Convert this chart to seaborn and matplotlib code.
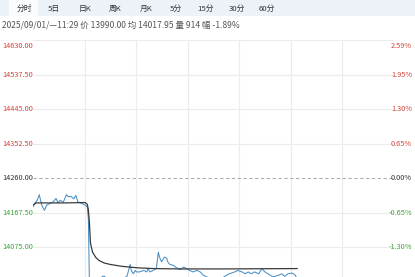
import matplotlib
matplotlib.use("Agg")
import matplotlib.pyplot as plt
import matplotlib.transforms as mtransforms
from matplotlib.patches import Rectangle
import seaborn as sns
import pandas as pd

# ---- data ----
TABS = ["分时", "5日", "日K", "周K", "月K", "5分", "15分", "30分", "60分"]
INFO = "2025/09/01/—11:29 价 13990.00 均 14017.95 量 914 幅 -1.89%"
PREV_CLOSE = 14260.00
PRICE_TICKS = [14630.00, 14537.50, 14445.00, 14352.50, 14260.00, 14167.50, 14075.00]
PCT_LABELS = ["2.59%", "1.95%", "1.30%", "0.65%", "0.00%", "-0.65%", "-1.30%"]
Y_MIN, Y_MAX = 13890.00, 14630.00
TOTAL_MINUTES = 345

price_minute = [0, 2, 4, 6, 8, 9, 11, 13, 16, 19, 22, 24, 26, 29, 32, 34, 36, 39, 41, 43, 47, 50, 52, 53,
                54, 56, 60, 64, 66, 68, 70, 75, 80, 86, 90, 93, 94, 96, 98, 99, 102, 106, 109, 110, 112,
                115, 118, 120, 121, 123, 125, 126, 128, 129, 131, 134, 137, 141, 144, 147, 150, 153, 157,
                160, 163, 166, 170, 176, 181, 185, 188, 193, 196, 200, 203, 206, 209, 212, 216, 219, 222,
                227, 230, 235, 238, 241, 244, 248, 251, 253]
price_value = [14184, 14194, 14201, 14216, 14192, 14184, 14174, 14188, 14192, 14196, 14206, 14194, 14201,
               14196, 14216, 14210, 14212, 14205, 14214, 14197, 14192, 14188, 14183, 14150,
               13975, 13950, 13965, 13985, 13996, 13998, 13993, 13975, 13982, 13990, 13998, 14029, 14013,
               14004, 14013, 14009, 14009, 14013, 14009, 14018, 14009, 14013, 14018, 14062, 14049, 14036,
               14045, 14049, 14045, 14036, 14029, 14027, 14021, 14015, 14022, 14018, 14013, 14009, 14013,
               14009, 14000, 13996, 13990, 13988, 13992, 14000, 14004, 14009, 14013, 14009, 14004, 14009,
               14004, 14009, 14004, 14018, 14009, 14000, 13996, 14000, 14004, 13997, 14004, 14006, 14000,
               13990]

avg_minute = [0, 3, 10, 30, 50, 52, 53, 54, 55, 57, 60, 63, 68, 74, 85, 100, 115, 140, 180, 220, 253]
avg_value = [14188, 14194, 14194, 14194, 14195, 14190, 14175, 14140, 14086, 14062, 14048, 14040, 14033,
             14029, 14024, 14020, 14018, 14017, 14017, 14017.5, 14018]

price_df = pd.DataFrame({"minute": price_minute, "price": price_value})
avg_df = pd.DataFrame({"minute": avg_minute, "avg": avg_value})

# ---- style ----
sns.set_style("white")
plt.rcParams["font.family"] = ["Noto Sans CJK SC", "DejaVu Sans"]

W, H = 415, 277
DPI = 100
fig = plt.figure(figsize=(W / DPI, H / DPI), dpi=DPI)
fig.patch.set_facecolor("white")

def fx(px):
    return px / W

def fy(py):
    return 1 - py / H

# tab bar
fig.patches.append(Rectangle((0, fy(16)), 1, 16 / H, transform=fig.transFigure,
                             facecolor="#edf2f9", edgecolor="none", zorder=0))
fig.patches.append(Rectangle((fx(9), fy(16)), fx(29), 16 / H, transform=fig.transFigure,
                             facecolor="#fbfcfe", edgecolor="none", zorder=1))
tab_x = [24, 54, 85, 115, 146, 176, 206, 237, 267]
for label, x in zip(TABS, tab_x):
    fig.text(fx(x), fy(9), label, ha="center", va="center", fontsize=5.6, color="#333333")

fig.text(fx(2), fy(25), INFO, ha="left", va="center", fontsize=6.1, color="#555555")

# plot axes (extends below the visible crop)
left_px, right_px = 33, 393.5
top_px, bot_px = 40.3, 316.3
ax = fig.add_axes([fx(left_px), fy(bot_px), (right_px - left_px) / W, (bot_px - top_px) / H])
ax.set_facecolor("none")
ax.set_xlim(0, TOTAL_MINUTES)
ax.set_ylim(Y_MIN, Y_MAX)
for s in ax.spines.values():
    s.set_visible(False)

# grid
for p in PRICE_TICKS:
    if p == PREV_CLOSE:
        ax.axhline(p, color="#9a9a9a", lw=0.6, ls=(0, (4, 3)), zorder=1)
    else:
        ax.axhline(p, color="#ececec", lw=0.8, zorder=0)
for k in range(1, 7):
    ax.axvline(TOTAL_MINUTES * k / 7, color="#ececec", lw=0.8, zorder=0)

sns.lineplot(data=price_df, x="minute", y="price", ax=ax, color="#4a8fc4", lw=0.75, zorder=3)
sns.lineplot(data=avg_df, x="minute", y="avg", ax=ax, color="#3a3a3a", lw=0.9, zorder=4)
ax.set_xlabel("")
ax.set_ylabel("")
ax.set_xticks([])
ax.set_yticks([])

def label_color(p):
    if p > PREV_CLOSE:
        return "#d0453b"
    if p < PREV_CLOSE:
        return "#3aa53a"
    return "#333333"

trans = mtransforms.blended_transform_factory(fig.transFigure, ax.transData)
for i, (p, pct) in enumerate(zip(PRICE_TICKS, PCT_LABELS)):
    va = "top" if i == 0 else "center"
    off = -1.5 if i == 0 else 0
    t1 = fig.text(fx(2), 0, f"{p:.2f}", ha="left", va=va, fontsize=5.3, color=label_color(p))
    t1.set_transform(mtransforms.offset_copy(trans, fig=fig, y=off, units="points"))
    t1.set_position((fx(2), p))
    t2 = fig.text(fx(412), 0, pct, ha="right", va=va, fontsize=5.3, color=label_color(p))
    t2.set_transform(mtransforms.offset_copy(trans, fig=fig, y=off, units="points"))
    t2.set_position((fx(412), p))

fig.savefig("out.png", dpi=DPI, facecolor="white")
